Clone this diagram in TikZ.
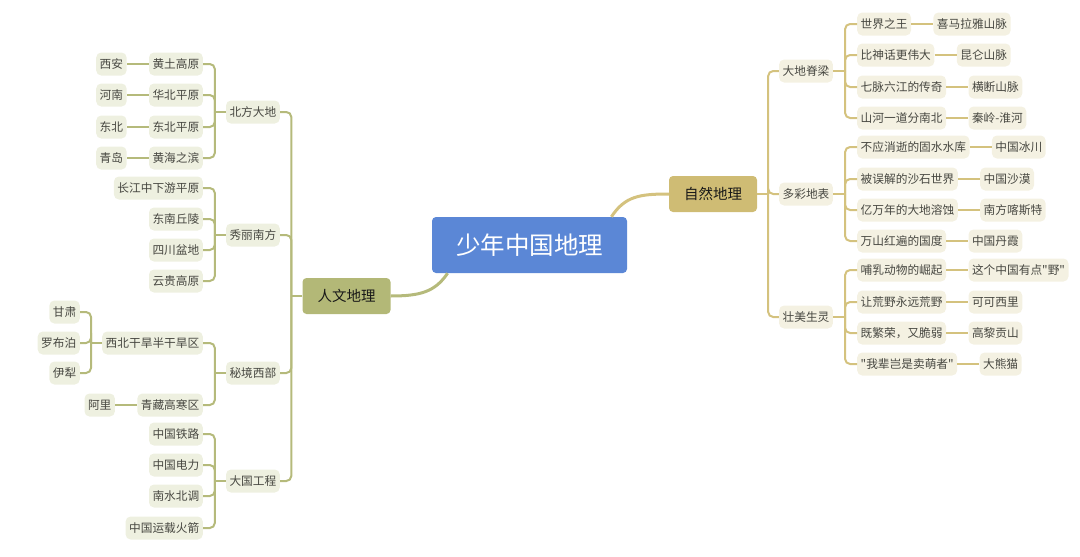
\documentclass[tikz,border=0pt]{standalone}
\usepackage{fontspec}
\newfontfamily\cjkfont{Noto Sans CJK SC}
\usepackage{tikz}
\usetikzlibrary{positioning}
\definecolor{geobleu}{HTML}{5B87D6}
\definecolor{geoor}{HTML}{CFBC74}
\definecolor{geoolive}{HTML}{B3B877}
\definecolor{geocreme}{HTML}{F4F1E2}
\definecolor{geovert}{HTML}{EEF0E0}
\definecolor{geotrait}{HTML}{D4C27E}
\definecolor{geotraitv}{HTML}{B5BA7B}
\definecolor{geotexte}{HTML}{474741}

\begin{document}
\begin{tikzpicture}[
    x=1pt,y=-1pt,
    centre/.style = {rectangle, rounded corners=4pt, fill=geobleu, text=white,
                     font=\cjkfont\fontsize{24.5}{28}\selectfont,
                     minimum width=195pt, minimum height=56pt},
    theme/.style  = {rectangle, rounded corners=4pt, text=black!90,
                     font=\cjkfont\fontsize{14.5}{17}\selectfont,
                     minimum width=88pt, minimum height=36pt},
    bulle/.style  = {rectangle, rounded corners=5pt, fill=geocreme, text=geotexte,
                     font=\cjkfont\fontsize{11.7}{14}\selectfont,
                     inner xsep=3.5pt, inner ysep=0pt, minimum height=23pt},
    bulleg/.style = {bulle, fill=geovert},
    lien/.style   = {geotrait, line width=2pt, rounded corners=5pt},
    lieng/.style  = {geotraitv, line width=2pt, rounded corners=5pt},
  ]
  \useasboundingbox (0,0) rectangle (1080,557);

  % ── Centre et thèmes ────────────────────────────────────────────────────
  \node[centre] (cen) at (529.5,245) {少年中国地理};
  \node[theme,fill=geoor]    (zr) at (713,194)   {自然地理};
  \node[theme,fill=geoolive] (rw) at (346.5,296) {人文地理};

  \draw[geotrait,line width=3pt]
       (cen.19) .. controls (625,196) and (640,194) .. (zr.west);
  \draw[geotraitv,line width=3pt]
       (cen.199) .. controls (435,292) and (420,296) .. (rw.east);

  % ── Géographie physique ─────────────────────────────────────────────────
  \node[bulle] (dd) at (806,71)  {大地脊梁};
  \node[bulle] (dc) at (806,194) {多彩地表};
  \node[bulle] (zm) at (806,317) {壮美生灵};

  \node[bulle,anchor=west] (dd1) at (857,24)  {世界之王};
  \node[bulle,anchor=west] (dd2) at (857,55)  {比神话更伟大};
  \node[bulle,anchor=west] (dd3) at (857,87)  {七脉六江的传奇};
  \node[bulle,anchor=west] (dd4) at (857,118) {山河一道分南北};
  \node[bulle,anchor=west] (dc1) at (857,147) {不应消逝的固水水库};
  \node[bulle,anchor=west] (dc2) at (857,179) {被误解的沙石世界};
  \node[bulle,anchor=west] (dc3) at (857,210) {亿万年的大地溶蚀};
  \node[bulle,anchor=west] (dc4) at (857,241) {万山红遍的国度};
  \node[bulle,anchor=west] (zm1) at (857,270) {哺乳动物的崛起};
  \node[bulle,anchor=west] (zm2) at (857,302) {让荒野永远荒野};
  \node[bulle,anchor=west] (zm3) at (857,333) {既繁荣，又脆弱};
  \node[bulle,anchor=west] (zm4) at (857,364) {"我辈岂是卖萌者"};

  \node[bulle,right=22pt of dd1] (dd1-f) {喜马拉雅山脉};
  \node[bulle,right=22pt of dd2] (dd2-f) {昆仑山脉};
  \node[bulle,right=22pt of dd3] (dd3-f) {横断山脉};
  \node[bulle,right=22pt of dd4] (dd4-f) {秦岭-淮河};
  \node[bulle,right=22pt of dc1] (dc1-f) {中国冰川};
  \node[bulle,right=22pt of dc2] (dc2-f) {中国沙漠};
  \node[bulle,right=22pt of dc3] (dc3-f) {南方喀斯特};
  \node[bulle,right=22pt of dc4] (dc4-f) {中国丹霞};
  \node[bulle,right=22pt of zm1] (zm1-f) {这个中国有点"野"};
  \node[bulle,right=22pt of zm2] (zm2-f) {可可西里};
  \node[bulle,right=22pt of zm3] (zm3-f) {高黎贡山};
  \node[bulle,right=22pt of zm4] (zm4-f) {大熊猫};

  \draw[lien] (zr.east) -- ++(11,0) coordinate (zr-j);
  \foreach \c in {dd,dc,zm}
    \draw[lien] (zr-j) |- (\c.west);
  \draw[lien] (dd.east) -- ++(12,0) coordinate (dd-j);
  \foreach \c in {dd1,dd2,dd3,dd4}
    \draw[lien] (dd-j) |- (\c.west);
  \draw[lien] (dc.east) -- ++(12,0) coordinate (dc-j);
  \foreach \c in {dc1,dc2,dc3,dc4}
    \draw[lien] (dc-j) |- (\c.west);
  \draw[lien] (zm.east) -- ++(12,0) coordinate (zm-j);
  \foreach \c in {zm1,zm2,zm3,zm4}
    \draw[lien] (zm-j) |- (\c.west);
  \foreach \c in {dd1,dd2,dd3,dd4,dc1,dc2,dc3,dc4,zm1,zm2,zm3,zm4}
    \draw[lien] (\c.east) -- (\c-f.west);

  % ── Géographie humaine ──────────────────────────────────────────────────
  \node[bulleg,anchor=east] (bf) at (280,112) {北方大地};
  \node[bulleg,anchor=east] (nf) at (280,235) {秀丽南方};
  \node[bulleg,anchor=east] (xb) at (280,373) {秘境西部};
  \node[bulleg,anchor=east] (dg) at (280,481) {大国工程};

  \node[bulleg,anchor=east] (bf1) at (203,64)  {黄土高原};
  \node[bulleg,anchor=east] (bf2) at (203,95)  {华北平原};
  \node[bulleg,anchor=east] (bf3) at (203,127) {东北平原};
  \node[bulleg,anchor=east] (bf4) at (203,158) {黄海之滨};
  \node[bulleg,anchor=east] (nf1) at (203,188) {长江中下游平原};
  \node[bulleg,anchor=east] (nf2) at (203,219) {东南丘陵};
  \node[bulleg,anchor=east] (nf3) at (203,250) {四川盆地};
  \node[bulleg,anchor=east] (nf4) at (203,281) {云贵高原};
  \node[bulleg,anchor=east] (xb1) at (203,343) {西北干旱半干旱区};
  \node[bulleg,anchor=east] (xb2) at (203,405) {青藏高寒区};
  \node[bulleg,anchor=east] (dg1) at (203,434) {中国铁路};
  \node[bulleg,anchor=east] (dg2) at (203,465) {中国电力};
  \node[bulleg,anchor=east] (dg3) at (203,496) {南水北调};
  \node[bulleg,anchor=east] (dg4) at (203,528) {中国运载火箭};

  \node[bulleg,left=22pt of bf1] (bf1-f) {西安};
  \node[bulleg,left=22pt of bf2] (bf2-f) {河南};
  \node[bulleg,left=22pt of bf3] (bf3-f) {东北};
  \node[bulleg,left=22pt of bf4] (bf4-f) {青岛};
  \node[bulleg,left=22pt of xb2] (xb2-f) {阿里};

  \node[bulleg,anchor=east] (xa) at (80,312) {甘肃};
  \node[bulleg,anchor=east] (xc) at (80,343) {罗布泊};
  \node[bulleg,anchor=east] (xd) at (80,373) {伊犁};

  \draw[lieng] (rw.west) -- ++(-11,0) coordinate (rw-j);
  \foreach \c in {bf,nf,xb,dg}
    \draw[lieng] (rw-j) |- (\c.east);
  \draw[lieng] (bf.west) -- ++(-11,0) coordinate (bf-j);
  \foreach \c in {bf1,bf2,bf3,bf4}
    \draw[lieng] (bf-j) |- (\c.east);
  \draw[lieng] (nf.west) -- ++(-11,0) coordinate (nf-j);
  \foreach \c in {nf1,nf2,nf3,nf4}
    \draw[lieng] (nf-j) |- (\c.east);
  \draw[lieng] (xb.west) -- ++(-11,0) coordinate (xb-j);
  \foreach \c in {xb1,xb2}
    \draw[lieng] (xb-j) |- (\c.east);
  \draw[lieng] (dg.west) -- ++(-11,0) coordinate (dg-j);
  \foreach \c in {dg1,dg2,dg3,dg4}
    \draw[lieng] (dg-j) |- (\c.east);
  \draw[lieng] (xb1.west) -- ++(-11,0) coordinate (xb1-j);
  \foreach \c in {xa,xc,xd}
    \draw[lieng] (xb1-j) |- (\c.east);
  \foreach \c in {bf1,bf2,bf3,bf4,xb2}
    \draw[lieng] (\c.west) -- (\c-f.east);

\end{tikzpicture}
\end{document}
